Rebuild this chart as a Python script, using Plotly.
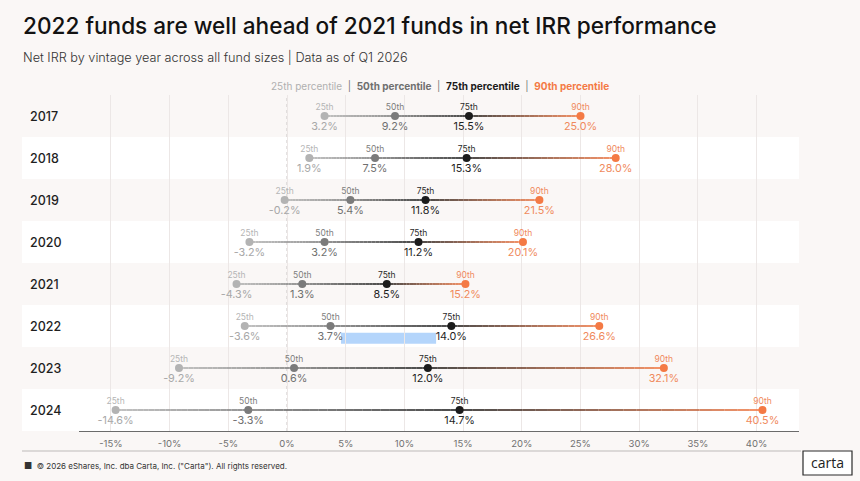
import plotly.graph_objects as go

years = ["2017", "2018", "2019", "2020", "2021", "2022", "2023", "2024"]
p25 = [3.2, 1.9, -0.2, -3.2, -4.3, -3.6, -9.2, -14.6]
p50 = [9.2, 7.5, 5.4, 3.2, 1.3, 3.7, 0.6, -3.3]
p75 = [15.5, 15.3, 11.8, 11.2, 8.5, 14.0, 12.0, 14.7]
p90 = [25.0, 28.0, 21.5, 20.1, 15.2, 26.6, 32.1, 40.5]
pct_names = ["25th", "50th", "75th", "90th"]
tick_vals = list(range(-15, 45, 5))
tick_text = [f"{v}%" for v in tick_vals]

BG = "#faf7f6"
marker_cols = ["#b3b3b3", "#7b7b7b", "#1c1c1c", "#f47a45"]
label_cols = ["#b5b5b5", "#7d7d7d", "#2a2a2a", "#f08a5d"]
value_cols = ["#a8a8a8", "#707070", "#1f1f1f", "#f08a5d"]
FONT = "Inter"

W, H = 860, 481
L, R, T, B = 79, 61, 95, 50
pw = W - L - R
ph = H - T - B


def px(xp):
    return (xp - L) / pw


def py(yp):
    return ((H - B) - yp) / ph


def hex2rgb(h):
    h = h.lstrip("#")
    return [int(h[i:i + 2], 16) for i in (0, 2, 4)]


def mix(a, b, t):
    ca, cb = hex2rgb(a), hex2rgb(b)
    return "rgb(%d,%d,%d)" % tuple(round(ca[i] + (cb[i] - ca[i]) * t) for i in range(3))


series = [p25, p50, p75, p90]
rows = list(range(len(years)))

fig = go.Figure()

# gradient connecting lines
N = 24
for k in range(3):
    for j in range(N):
        t0, t1 = j / N, (j + 1) / N
        xs, ys = [], []
        for r in rows:
            a, b = series[k][r], series[k + 1][r]
            xs += [a + (b - a) * t0, a + (b - a) * t1, None]
            ys += [r, r, None]
        fig.add_trace(go.Scatter(
            x=xs, y=ys, mode="lines",
            line=dict(color=mix(marker_cols[k], marker_cols[k + 1], (t0 + t1) / 2), width=1.6),
            hoverinfo="skip", showlegend=False))

# markers and labels
for k in range(4):
    fig.add_trace(go.Scatter(
        x=series[k], y=rows, mode="markers",
        marker=dict(color=marker_cols[k], size=8),
        showlegend=False, hoverinfo="skip"))
    fig.add_trace(go.Scatter(
        x=series[k], y=[r - 0.19 for r in rows], mode="text",
        text=[pct_names[k]] * len(rows),
        textfont=dict(family=FONT, size=8.5, color=label_cols[k]),
        showlegend=False, hoverinfo="skip"))
    fig.add_trace(go.Scatter(
        x=series[k], y=[r + 0.27 for r in rows], mode="text",
        text=[f"{v:.1f}%" for v in series[k]],
        textfont=dict(family=FONT, size=10.8, color=value_cols[k]),
        showlegend=False, hoverinfo="skip"))

shapes = []
for r in rows:
    if r % 2 == 1:
        shapes.append(dict(type="rect", xref="paper", yref="y",
                           x0=px(22), x1=1, y0=r - 0.5, y1=r + 0.5,
                           fillcolor="white", line=dict(width=0), layer="below"))
shapes.append(dict(type="line", xref="x", yref="paper", x0=0, x1=0, y0=0, y1=1,
                   line=dict(color="#c9c5c4", width=1, dash="dot"), layer="below"))
# text-selection highlight in 2022 row
r22 = years.index("2022")
shapes.append(dict(type="rect", xref="x", yref="y",
                   x0=p50[r22] + 0.9, x1=p75[r22] - 1.3, y0=r22 + 0.16, y1=r22 + 0.42,
                   fillcolor="#b4d5fb", line=dict(width=0), layer="below"))
# footer rule
shapes.append(dict(type="line", xref="paper", yref="paper",
                   x0=px(22), x1=px(801), y0=py(451), y1=py(451),
                   line=dict(color="#bdbab9", width=1)))
# logo box
shapes.append(dict(type="rect", xref="paper", yref="paper",
                   x0=px(803), x1=px(852), y0=py(475), y1=py(451),
                   line=dict(color="#2a2a2a", width=1.2), fillcolor="white"))

ann = []
for r, yv in enumerate(years):
    ann.append(dict(x=px(28), xref="paper", y=r, yref="y", text=yv,
                    showarrow=False, xanchor="left",
                    font=dict(family=FONT, size=12.5, color="#1f1f1f", weight=500)))


def pann(xp, yp, text, font, xanchor="left"):
    ann.append(dict(x=px(xp), y=py(yp), xref="paper", yref="paper", text=text,
                    showarrow=False, xanchor=xanchor, yanchor="middle", font=font))


pann(21, 25, "2022 funds are well ahead of 2021 funds in net IRR performance",
     dict(family=FONT, size=22.6, color="#121212", weight=500))
pann(21, 57, "Net IRR by vintage year across all fund sizes | Data as of Q1 2026",
     dict(family=FONT, size=12.7, color="#333333", weight=300))
sep = "<span style='color:#777'>  |  </span>"
legend_txt = ("<span style='color:#b0b0b0'>25th percentile</span>" + sep +
              "<b><span style='color:#6f6f6f'>50th percentile</span></b>" + sep +
              "<b><span style='color:#1a1a1a'>75th percentile</span></b>" + sep +
              "<b><span style='color:#f47a45'>90th percentile</span></b>")
pann(440, 86, legend_txt, dict(family=FONT, size=10), xanchor="center")
pann(22, 465, "<span style='font-size:9px'>■</span>  © 2026 eShares, Inc. dba Carta, Inc. (\"Carta\"). All rights reserved.",
     dict(family=FONT, size=8, color="#333333"))
pann(827.5, 462.5, "carta", dict(family="Open Sans", size=14, color="#222222"), xanchor="center")

fig.update_layout(
    width=W, height=H,
    margin=dict(l=L, r=R, t=T, b=B),
    paper_bgcolor=BG, plot_bgcolor=BG,
    shapes=shapes, annotations=ann,
    xaxis=dict(range=[(79 - 287) / 11.74, (799 - 287) / 11.74],
               tickvals=tick_vals, ticktext=tick_text,
               showgrid=True, gridcolor="#ece7e6", gridwidth=1,
               zeroline=False, showline=True, linecolor="#6b6b6b", linewidth=1,
               tickfont=dict(family=FONT, size=9.5, color="#707070"),
               ticks="", ticklabelstandoff=4, fixedrange=True),
    yaxis=dict(range=[len(years) - 0.5, -0.5], showticklabels=False,
               showgrid=False, zeroline=False, fixedrange=True),
    showlegend=False,
)

fig.write_html("out.html")
